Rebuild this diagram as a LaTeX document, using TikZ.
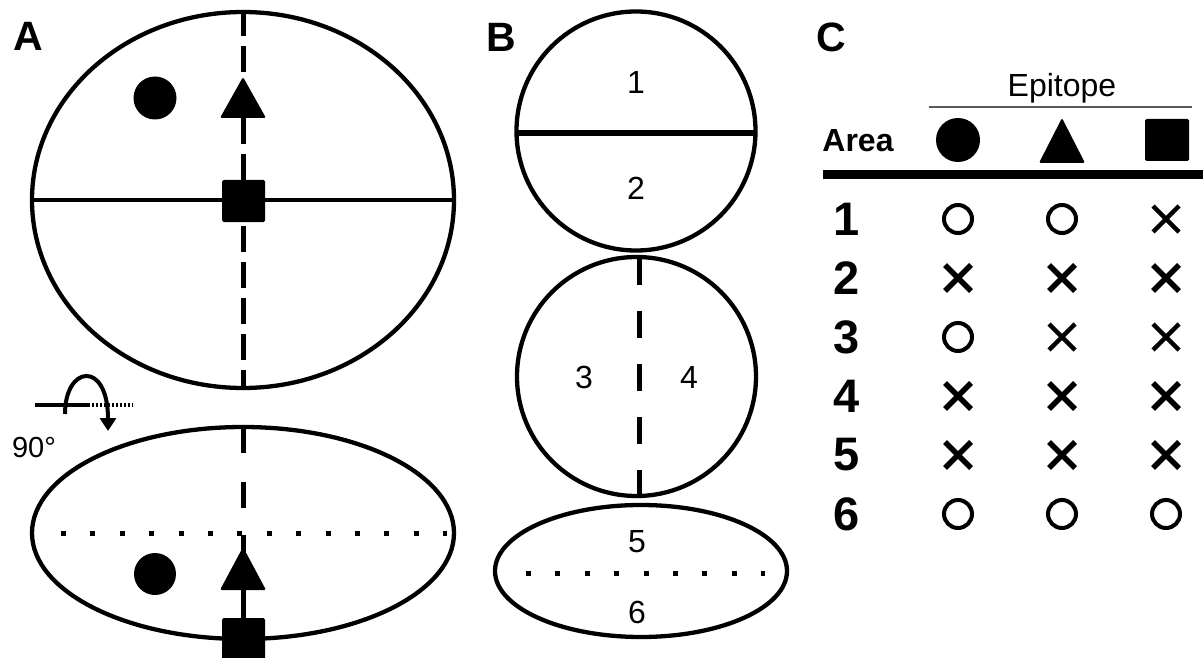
\documentclass[tikz,border=0pt]{standalone}
\usepackage{fontspec}
\setmainfont{Liberation Sans}
\usetikzlibrary{arrows.meta,calc}

\newcommand{\panelfont}{\fontsize{41}{41}\selectfont\bfseries}
\newcommand{\areafont}{\fontsize{32}{32}\selectfont}
\newcommand{\rowfont}{\fontsize{47}{47}\selectfont\bfseries}

\tikzset{
  symo/.pic={\draw[line width=4pt] (0,0) circle[radius=14pt];},
  symx/.pic={\draw[line width=5.5pt] (-13,-13) -- (13,13) (-13,13) -- (13,-13);},
  symt/.pic={\draw[line width=4.3pt] (-13,-13) -- (13,13) (-13,13) -- (13,-13);}
}

\begin{document}
\begin{tikzpicture}[x=1pt,y=-1pt,
  outline/.style={line width=4.3pt},
  axisdash/.style={line width=5pt,dash pattern=on 26pt off 10pt},
  dotrow/.style={line width=5pt,dash pattern=on 5pt off 24.4pt},
  epi/.style={fill=black,rounded corners=1.5pt},
  lbl/.style={inner sep=0pt}]
\clip (0,0) rectangle (1203,658);

% Panel A: top view
\node[lbl,font=\panelfont] (labA) at (28,36) {A};
\draw[outline] (243,200) ellipse [x radius=211pt, y radius=188pt];
\draw[line width=3.8pt] (32,200) -- (455,200);
\draw[axisdash] (243,10) -- (243,388);
\fill (155,98) circle[radius=21.5pt];
\fill[epi] (243,77) -- (266,118) -- (220,118) -- cycle;
\fill[epi] (222,180) rectangle (265,222);

% rotation by 90 degrees
\draw[line width=4.5pt] (35,405) -- (88,405);
\draw[line width=4.5pt,dash pattern=on 2pt off 2pt] (88,405) -- (133,405);
\draw[line width=4pt,-{Triangle[length=13pt,width=16pt]}]
  (65,414) .. controls (65,365) and (108,360) .. (108,431);
\node[lbl,font=\fontsize{29}{29}\selectfont] (turn) at (34,448) {90°};

% Panel A: side view
\draw[outline] (243,533) ellipse [x radius=211pt, y radius=106pt];
\draw[dotrow] (61,533) -- (447,533);
\draw[line width=5pt,dash pattern=on 26pt off 29pt] (243,427) -- (243,510);
\draw[line width=5pt] (243,535) -- (243,620);
\fill (155,574) circle[radius=21pt];
\fill[epi] (243,547) -- (266,590) -- (220,590) -- cycle;
\fill[epi] (222,618) rectangle (265,664);

% Panel B: areas
\node[lbl,font=\panelfont] (labB) at (501,37) {B};
\draw[outline] (636,131) circle[radius=119.5pt];
\draw[line width=5.5pt] (517,133) -- (756,133);
\node[lbl,font=\areafont] (a1) at (636,82) {1};
\node[lbl,font=\areafont] (a2) at (636,188) {2};

\draw[outline] (636.5,376.5) circle[radius=119.5pt];
\draw[line width=5pt,dash pattern=on 27pt off 26pt] (639,258) -- (639,496);
\node[lbl,font=\areafont] (a3) at (584,377) {3};
\node[lbl,font=\areafont] (a4) at (689,377) {4};

\draw[outline] (641,571) ellipse [x radius=146pt, y radius=66pt];
\draw[dotrow] (526,573) -- (765,573);
\node[lbl,font=\areafont] (a5) at (637,542) {5};
\node[lbl,font=\areafont] (a6) at (637,612) {6};

% Panel C: table
\node[lbl,font=\panelfont] (labC) at (831,37) {C};
\node[lbl,font=\fontsize{32}{32}\selectfont,anchor=base] (epitope) at (1062,97) {Epitope};
\draw[line width=1.8pt,black!65] (929,107) -- (1192,107);
\node[lbl,font=\areafont\bfseries] (area) at (858,141) {Area};
\fill (958,140) circle[radius=22pt];
\fill[epi] (1062,118) -- (1085,163) -- (1039,163) -- cycle;
\fill[epi] (1145,119) rectangle (1189,161);
\draw[line width=9pt] (823,175) -- (1210,175);

\foreach \r/\a/\b/\c [evaluate=\r as \y using 160+59*\r] in
  {1/o/o/t,2/x/x/x,3/o/t/t,4/x/x/x,5/x/x/x,6/o/o/o} {
  \node[lbl,font=\rowfont] (row\r) at (847,\y) {\r};
  \pic at (958,\y) {sym\a};
  \pic at (1062,\y) {sym\b};
  \pic at (1166,\y) {sym\c};
}
\end{tikzpicture}
\end{document}
